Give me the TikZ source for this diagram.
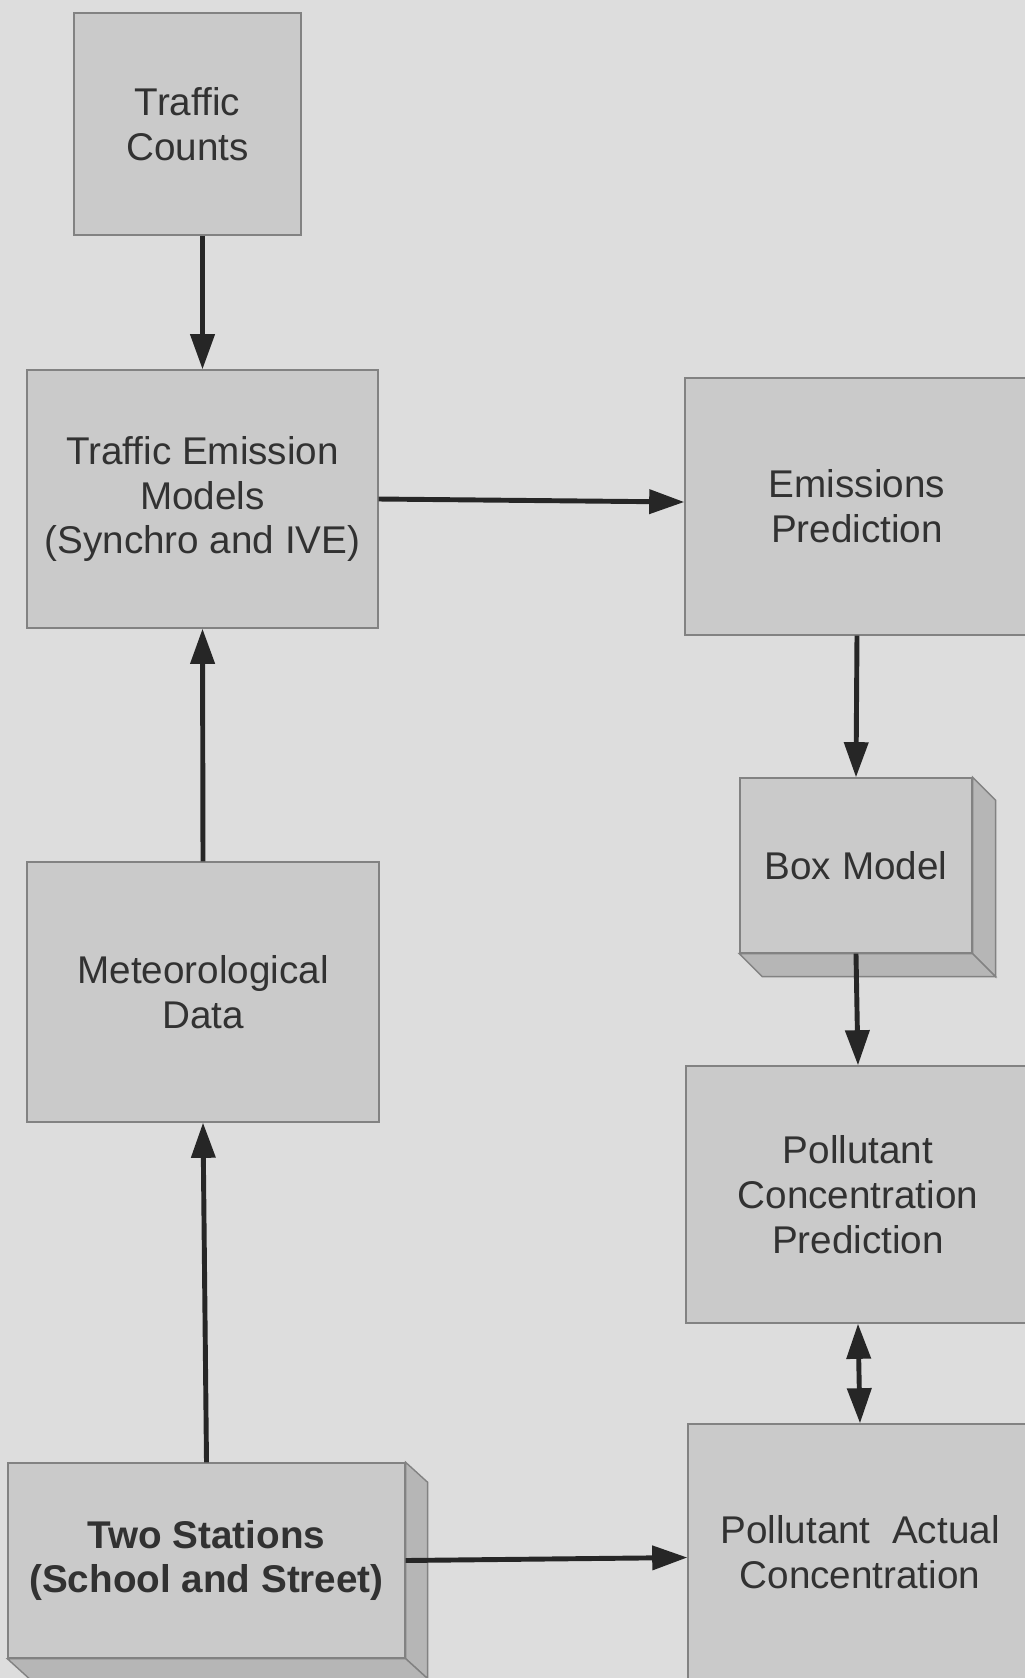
\documentclass[tikz,border=0pt]{standalone}
\usepackage{fontspec}
\setmainfont{Liberation Sans}
\usetikzlibrary{arrows.meta}
\definecolor{pagegray}{RGB}{221,221,221}
\definecolor{boxgray}{RGB}{202,202,202}
\definecolor{edgegray}{RGB}{130,130,130}
\definecolor{sidegray}{RGB}{182,182,182}
\definecolor{inkgray}{RGB}{50,50,50}
\tikzset{
  blk/.style      = {rectangle, draw=edgegray, fill=boxgray, line width=0.8pt, inner sep=0pt, align=center, text=inkgray, font=\fontsize{22}{24.5}\selectfont},
  sideface/.style = {draw=edgegray, fill=sidegray, line width=0.8pt},
  flow/.style     = {-{Triangle[width=13.5pt,length=20pt]}, line width=2.8pt, black!85},
  flowboth/.style = {{Triangle[width=13.5pt,length=20pt]}-{Triangle[width=13.5pt,length=20pt]}, line width=2.8pt, black!85},
}
\begin{document}
\begin{tikzpicture}[x=0.02cm, y=-0.02cm]
  % page
  \clip (0,0) rectangle (1025,1678);
  \fill[pagegray] (0,0) rectangle (1025,1678);

  % left column
  \node[blk, minimum width=4.54cm, minimum height=4.44cm] (counts) at (187.5,124) {Traffic\\[1pt]Counts};
  \node[blk, minimum width=7.02cm, minimum height=5.16cm] (models) at (202.5,499) {Traffic Emission\\[1pt]Models\\[1pt](Synchro and IVE)};
  \node[blk, minimum width=7.04cm, minimum height=5.2cm] (meteo) at (203,992) {Meteorological\\[1pt]Data};

  % stations (3d box)
  \node[blk, minimum width=7.94cm, minimum height=3.9cm, font=\fontsize{22}{24.5}\selectfont\bfseries] (stations) at (206.5,1560.5) {Two Stations\\[1pt](School and Street)};
  \draw[sideface] (stations.north east) -- ++(22,20) -- ([shift={(22,20)}]stations.south east) -- (stations.south east) -- cycle;
  \draw[sideface] (stations.south west) -- ++(22,20) -- ([shift={(22,20)}]stations.south east) -- (stations.south east) -- cycle;

  % right column
  \node[blk, minimum width=6.88cm, minimum height=5.14cm] (emis) at (857,506.5) {Emissions\\[1pt]Prediction};
  \node[blk, minimum width=4.64cm, minimum height=3.5cm] (boxmod) at (856,865.5) {Box Model};
  \draw[sideface] (boxmod.north east) -- ++(23,23) -- ([shift={(23,23)}]boxmod.south east) -- (boxmod.south east) -- cycle;
  \draw[sideface] (boxmod.south west) -- ++(23,23) -- ([shift={(23,23)}]boxmod.south east) -- (boxmod.south east) -- cycle;
  \node[blk, minimum width=6.88cm, minimum height=5.14cm] (predconc) at (858,1194.5) {Pollutant\\[1pt]Concentration\\[1pt]Prediction};
  \node[blk, minimum width=6.88cm, minimum height=5.12cm] (actconc) at (860,1552) {Pollutant~ Actual\\[1pt]Concentration};

  % connectors
  \draw[flow] (models.north |- counts.south) -- (models.north);
  \draw[flow] (models.east) -- ([yshift=-0.06cm]models.east -| emis.west);
  \draw[flow] (meteo.north) -- (models.south);
  \draw[flow] (stations.north) -- (meteo.south);
  \draw[flow] (stations.east) -- ([yshift=0.06cm]stations.east -| actconc.west);
  \draw[flow] (emis.south) -- (boxmod.north);
  \draw[flow] (boxmod.south) -- (predconc.north);
  \draw[flowboth] (predconc.south) -- (actconc.north);
\end{tikzpicture}
\end{document}
